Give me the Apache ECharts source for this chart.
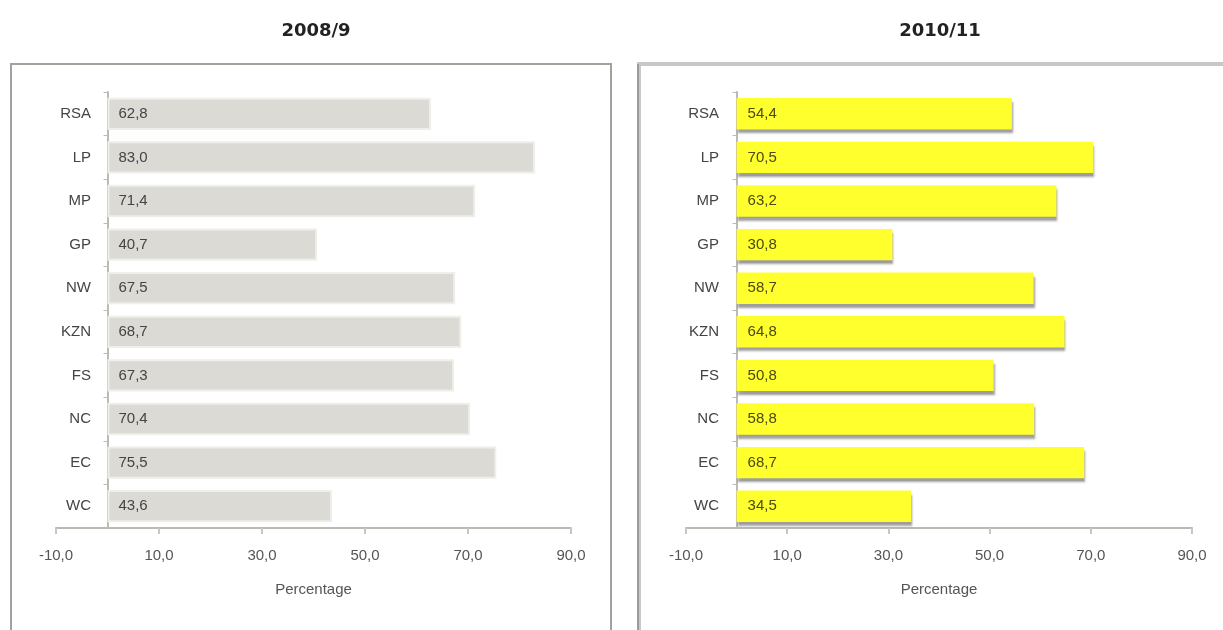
<!DOCTYPE html>
<html>
<head>
<meta charset="utf-8">
<title>Percentage by province</title>
<script src="https://cdn.jsdelivr.net/npm/echarts@6/dist/echarts.min.js"></script>
<style>
  html, body { margin: 0; padding: 0; background: #fff; }
  #chart { width: 1223px; height: 630px; }
</style>
</head>
<body>
<div id="chart"></div>
<script>
// provinces, top to bottom
var provinces = ['RSA', 'LP', 'MP', 'GP', 'NW', 'KZN', 'FS', 'NC', 'EC', 'WC'];
var values2008 = [62.8, 83.0, 71.4, 40.7, 67.5, 68.7, 67.3, 70.4, 75.5, 43.6];
var values2010 = [54.4, 70.5, 63.2, 30.8, 58.7, 64.8, 50.8, 58.8, 68.7, 34.5];
var panelTitles = ['2008/9', '2010/11'];
var axisName = 'Percentage';

var narrow = "'Liberation Sans Narrow', 'Liberation Sans', Arial, sans-serif";

// comma as decimal mark
function fmt(v) {
    return v.toFixed(1).replace('.', ',');
}

function valueAxis(idx) {
    return {
        type: 'value',
        gridIndex: idx,
        min: -10,
        max: 90,
        interval: 20,
        name: axisName,
        nameLocation: 'middle',
        nameGap: 54,
        nameTextStyle: { fontFamily: narrow, fontSize: 15, color: '#555' },
        splitLine: { show: false },
        axisLine: { show: true, lineStyle: { color: '#bcbab5', width: 2 } },
        axisTick: { show: true, length: 6, lineStyle: { color: '#c8c6c1', width: 2 } },
        axisLabel: {
            fontFamily: narrow, fontSize: 15, color: '#555', margin: 20,
            formatter: function (v) { return fmt(v); }
        }
    };
}

// labels sit just left of the zero line, not at the grid edge
function catAxis(idx, labelMargin) {
    return {
        type: 'category',
        gridIndex: idx,
        data: provinces,
        inverse: true,
        axisLine: { show: true, onZero: true, lineStyle: { color: '#bcbab5', width: 2 } },
        axisTick: { show: true, length: 4, lineStyle: { color: '#bcbab5' } },
        axisLabel: { fontFamily: narrow, fontSize: 15, color: '#444', margin: labelMargin }
    };
}

var chart = echarts.init(document.getElementById('chart'));

var titleStyle = { fontFamily: 'DejaVu Sans', fontSize: 18, fontWeight: 'bold', color: '#222' };

var option = {
    backgroundColor: '#fff',
    animation: false,
    title: [
        { text: panelTitles[0], left: 311, top: 17, textAlign: 'center', textStyle: titleStyle },
        { text: panelTitles[1], left: 935, top: 17, textAlign: 'center', textStyle: titleStyle }
    ],
    grid: [
        { left: 56, width: 515, top: 92, height: 436 },
        { left: 686, width: 506, top: 92, height: 436 }
    ],
    xAxis: [valueAxis(0), valueAxis(1)],
    yAxis: [catAxis(0, -35), catAxis(1, -33)],
    series: [
        {
            type: 'bar',
            xAxisIndex: 0,
            yAxisIndex: 0,
            data: values2008,
            barCategoryGap: '26%',
            itemStyle: { color: '#dcdad5', borderColor: '#efeeeb', borderWidth: 2 },
            label: {
                show: true, position: 'insideLeft', distance: 11,
                fontFamily: narrow, fontSize: 15, color: '#444',
                formatter: function (p) { return fmt(p.value); }
            }
        },
        {
            type: 'bar',
            xAxisIndex: 1,
            yAxisIndex: 1,
            data: values2010,
            barCategoryGap: '28%',
            itemStyle: {
                color: '#ffff2e',
                shadowColor: 'rgba(60,60,60,0.5)',
                shadowOffsetX: 1,
                shadowOffsetY: 4,
                shadowBlur: 2
            },
            label: {
                show: true, position: 'insideLeft', distance: 11,
                fontFamily: narrow, fontSize: 15, color: '#4a4a10',
                formatter: function (p) { return fmt(p.value); }
            }
        }
    ],
    // panel frames
    graphic: [
        { type: 'rect', shape: { x: 11, y: 64, width: 600, height: 620 },
          style: { fill: 'none', stroke: '#a3a19b', lineWidth: 2 }, silent: true },
        { type: 'rect', shape: { x: 639, y: 64, width: 640, height: 620 },
          style: { fill: 'none', stroke: '#c9c8c4', lineWidth: 4 }, silent: true },
        { type: 'line', shape: { x1: 638, y1: 64, x2: 638, y2: 640 },
          style: { stroke: '#9c9b97', lineWidth: 2 }, silent: true }
    ]
};

chart.setOption(option);
</script>
</body>
</html>
